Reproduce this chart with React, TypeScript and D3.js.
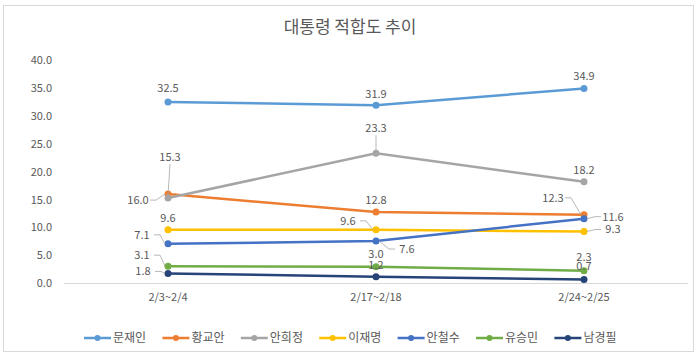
import React from "react";
import * as d3 from "d3";

const title = "대통령 적합도 추이";
const categories = ["2/3~2/4", "2/17~2/18", "2/24~2/25"];
const seriesNames = ["문재인", "황교안", "안희정", "이재명", "안철수", "유승민", "남경필"];
const moon = [32.5, 31.9, 34.9];
const hwang = [16.0, 12.8, 12.3];
const ahnHJ = [15.3, 23.3, 18.2];
const lee = [9.6, 9.6, 9.3];
const ahnCS = [7.1, 7.6, 11.6];
const yoo = [3.1, 3.0, 2.3];
const nam = [1.8, 1.2, 0.7];
const seriesValues = [moon, hwang, ahnHJ, lee, ahnCS, yoo, nam];
const yTicks = [0, 5, 10, 15, 20, 25, 30, 35, 40];

const colors = ["#5B9BD5", "#ED7D31", "#A5A5A5", "#FFC000", "#4472C4", "#70AD47", "#264478"];

// label placement relative to each point: [dx, dy, leader]
const labelLayout: [number, number, boolean][][] = [
  [[0, -14, false], [0, -11, false], [0, -12, false]],
  [[-30, 6, true], [0, -12, false], [-31, -17, true]],
  [[2, -41, true], [0, -25, true], [0, -12, false]],
  [[0, -12, false], [-28, -9, true], [29, -2, true]],
  [[-26, -9, true], [31, 8, true], [29, -2, true]],
  [[-26, -11, true], [0, -13, false], [0, -13, false]],
  [[-25, -2, true], [0, -12, false], [0, -13, false]],
];

const W = 700;
const H = 358;
const font = "'Noto Sans CJK KR', 'Noto Sans', sans-serif";
const textColor = "#595959";

export default function App() {
  const x = d3.scaleBand<string>().domain(categories).range([64, 688]);
  const y = d3.scaleLinear().domain([0, 40]).range([283.5, 60]);
  const cx = (c: string) => (x(c) as number) + x.bandwidth() / 2;
  const line = d3
    .line<number>()
    .x((_, i) => cx(categories[i]))
    .y((v) => y(v));

  const legendStart = 84;
  const legendStep = 78.4;

  return (
    <svg
      width={W}
      height={H}
      style={{ position: "absolute", left: 0, top: 0, background: "#fff" }}
      fontFamily={font}
    >
      <rect x={3.5} y={5.5} width={690} height={346} fill="#fff" stroke="#d9d9d9" />
      <text x={350} y={33} textAnchor="middle" fontSize={17} fill="#595959">
        {title}
      </text>
      {yTicks.map((t) => (
        <text key={t} x={52} y={y(t)} dy="0.35em" textAnchor="end" fontSize={11} fill={textColor}>
          {t.toFixed(1)}
        </text>
      ))}
      <line x1={64} x2={688} y1={y(0)} y2={y(0)} stroke="#d9d9d9" strokeWidth={1} />
      {categories.map((c) => (
        <text key={c} x={cx(c)} y={297} dy="0.35em" textAnchor="middle" fontSize={11} fill={textColor}>
          {c}
        </text>
      ))}
      {seriesValues.map((vals, si) => (
        <g key={si}>
          <path d={line(vals) as string} fill="none" stroke={colors[si]} strokeWidth={2.5} strokeLinecap="round" />
          {vals.map((v, i) => (
            <circle key={i} cx={cx(categories[i])} cy={y(v)} r={3.5} fill={colors[si]} />
          ))}
        </g>
      ))}
      {seriesValues.map((vals, si) =>
        vals.map((v, i) => {
          const [dx, dy, leader] = labelLayout[si][i];
          const px = cx(categories[i]);
          const py = y(v);
          const lx = px + dx;
          const ly = py + dy;
          let leaderPath: string | null = null;
          if (leader) {
            if (Math.abs(dx) > Math.abs(dy) * 0.9 || Math.abs(dx) > 15) {
              const side = dx < 0 ? 1 : -1;
              const ax = lx + side * 12;
              const bx = ax + side * 6;
              leaderPath = `M${ax},${ly} L${bx},${ly} L${px - side * 3},${py}`;
            } else {
              leaderPath = `M${lx},${ly + 7} L${px},${py - 3}`;
            }
          }
          return (
            <g key={`${si}-${i}`}>
              {leaderPath && <path d={leaderPath} fill="none" stroke="#a6a6a6" strokeWidth={0.8} />}
              <text x={lx} y={ly} dy="0.35em" textAnchor="middle" fontSize={11} fill={textColor}>
                {v.toFixed(1)}
              </text>
            </g>
          );
        })
      )}
      {seriesNames.map((n, i) => {
        const lx = legendStart + i * legendStep;
        const ly = 338;
        return (
          <g key={n}>
            <line x1={lx} x2={lx + 27} y1={ly} y2={ly} stroke={colors[i]} strokeWidth={2.5} />
            <circle cx={lx + 13.5} cy={ly} r={3} fill={colors[i]} />
            <text x={lx + 29} y={ly} dy="0.35em" fontSize={12} fill={textColor}>
              {n}
            </text>
          </g>
        );
      })}
    </svg>
  );
}
